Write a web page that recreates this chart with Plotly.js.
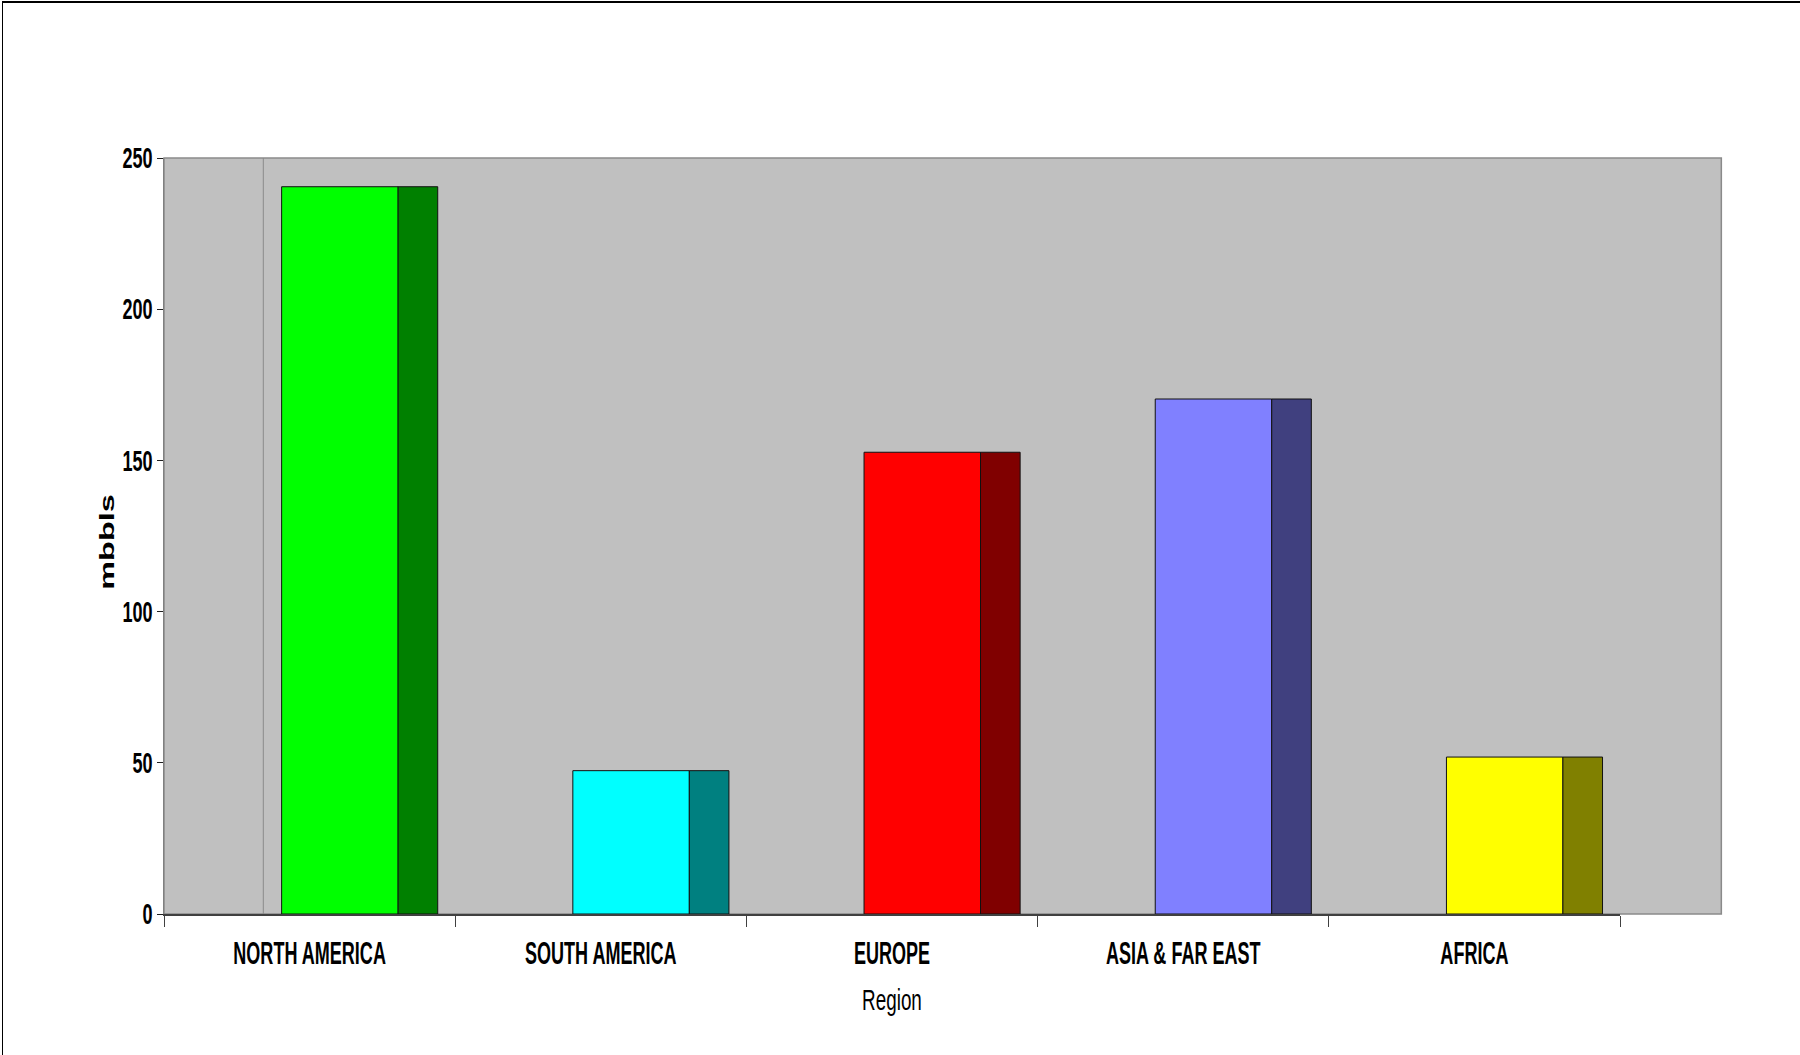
<!DOCTYPE html>
<html><head><meta charset="utf-8">
<script src="https://cdn.plot.ly/plotly-3.0.1.min.js"></script>
<style>
html,body{margin:0;padding:0;background:#fff;}
#chart{width:1800px;height:1055px;}
#frame{position:absolute;left:2px;top:1px;width:1798px;height:1054px;border-top:2px solid #000;border-left:1px solid #000;pointer-events:none;box-sizing:border-box;}
</style></head><body>
<div id="chart"></div><div id="frame"></div>
<script>
// ---- data ----
const regions = ["NORTH AMERICA", "SOUTH AMERICA", "EUROPE", "ASIA & FAR EAST", "AFRICA"];
const volumes = [240.5, 47.4, 152.7, 170.3, 51.9];
const frontColors = ["#00FF00", "#00FFFF", "#FF0000", "#8080FF", "#FFFF00"];
const sideColors = ["#008000", "#008080", "#800000", "#40407F", "#808000"];
const yTickVals = [0, 50, 100, 150, 200, 250];
const yTitle = "mbbls";
const xTitle = "Region";

// ---- style constants ----
const DEPTH = 0.348;          // 3D depth of the plot floor, in category widths
const WALL = 0.341;           // position of the back-wall edge inside first category
const sans = "Liberation Sans, Arial, sans-serif";

const front = {
  type: "bar", x: regions, y: volumes,
  width: 0.40, offset: -0.096,
  marker: {color: frontColors, line: {color: "#111", width: 1}},
  hoverinfo: "skip", showlegend: false
};
const side = {
  type: "bar", x: regions, y: volumes,
  width: 0.136, offset: 0.304,
  marker: {color: sideColors, line: {color: "#111", width: 1}},
  hoverinfo: "skip", showlegend: false
};

const layout = {
  width: 1800, height: 1055,
  margin: {l: 164, r: 180, t: 158, b: 141},
  paper_bgcolor: "#ffffff",
  plot_bgcolor: "#C0C0C0",
  barmode: "overlay",
  showlegend: false,
  xaxis: {
    type: "category",
    tickson: "boundaries",
    ticks: "outside", ticklen: 11, tickcolor: "#404040", tickwidth: 1,
    showline: true, linecolor: "#404040", linewidth: 2,
    showgrid: false, zeroline: false,
    ticklabelstandoff: 18,
    tickfont: {family: sans, size: 22, color: "#000", weight: "bold"},
    title: {text: xTitle, standoff: 27, font: {family: sans, size: 23, color: "#000"}}
  },
  yaxis: {
    range: [0, 250],
    tickvals: yTickVals,
    ticks: "outside", ticklen: 6, tickcolor: "#202020", tickwidth: 1,
    showline: true, linecolor: "#808080", linewidth: 1,
    showgrid: false, zeroline: false,
    ticklabelstandoff: 0,
    tickfont: {family: sans, size: 22, color: "#000", weight: "bold"},
    title: {text: yTitle, standoff: 4, font: {family: sans, size: 20, color: "#000", weight: "bold"}}
  },
  shapes: [
    {type: "rect", xref: "paper", yref: "paper", x0: 0, x1: 1 + DEPTH / regions.length, y0: 0, y1: 1,
     fillcolor: "#C0C0C0", line: {color: "#8a8a8a", width: 1.5}, layer: "below"},
    {type: "line", xref: "x", yref: "paper", x0: -0.5 + WALL, x1: -0.5 + WALL, y0: 0, y1: 1,
     line: {color: "#8a8a8a", width: 1}, layer: "below"}
  ]
};

// condense / stretch text glyphs like the original (narrow, tall lettering)
function reshape(sel, sx, sy, anchor, targetCx, targetCy) {
  document.querySelectorAll(sel).forEach(el => {
    const b = el.getBBox();
    const t = el.getAttribute("transform") || "";
    const ox = anchor === "right" ? b.x + b.width : b.x + b.width / 2;
    const oy = b.y + b.height / 2;
    el.setAttribute("transform", `${t} translate(${ox},${oy}) scale(${sx},${sy}) translate(${-ox},${-oy})`);
    if (targetCx !== undefined) {
      const svgR = el.ownerSVGElement.getBoundingClientRect();
      const r = el.getBoundingClientRect();
      const dx = targetCx - (r.left + r.width / 2 - svgR.left);
      const dy = targetCy === undefined ? 0 : targetCy - (r.top + r.height / 2 - svgR.top);
      el.setAttribute("transform", `translate(${dx},${dy}) ` + el.getAttribute("transform"));
    }
  });
}

Plotly.newPlot("chart", [front, side], layout, {staticPlot: true, displayModeBar: false}).then(() => {
  reshape(".ytick text", 0.82, 1.32, "right");
  reshape(".xtick text", 0.82, 1.42, "center");
  reshape(".g-xtitle text", 0.82, 1.26, "center");
  reshape(".g-ytitle text", 1.62, 1, "center", 107, 542);
});
</script>
</body></html>
